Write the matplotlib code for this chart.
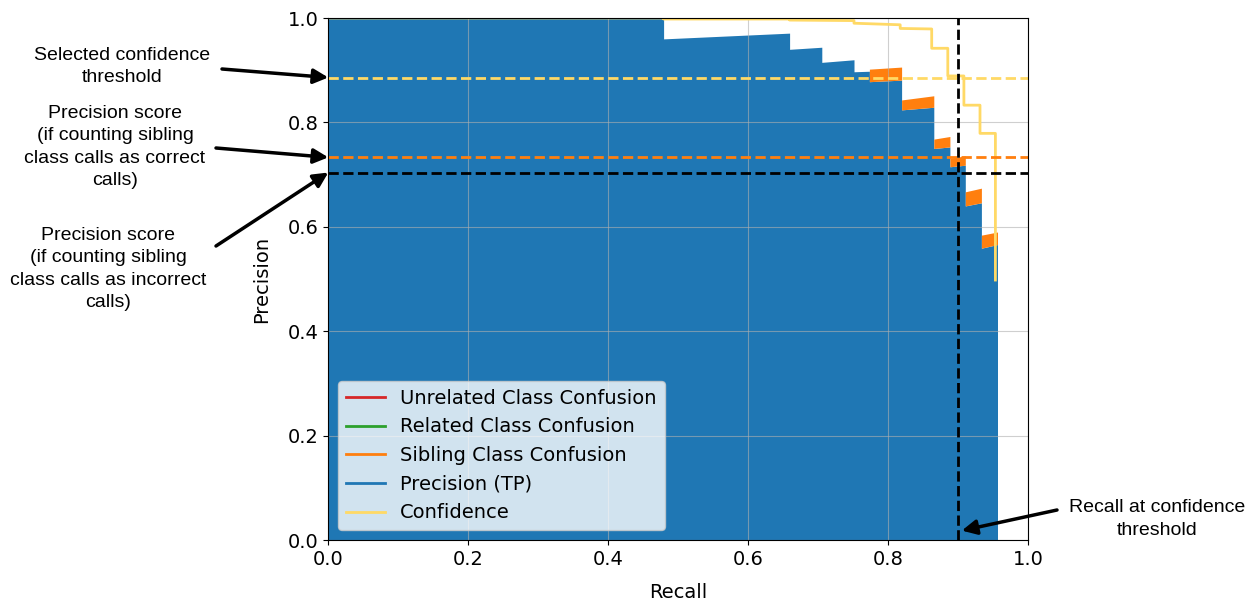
import matplotlib
matplotlib.use('Agg')
import matplotlib.pyplot as plt
import numpy as np
from matplotlib.lines import Line2D

# ========================
# Data
# ========================
recall = [0.0, 0.479, 0.479, 0.659, 0.659, 0.705, 0.705, 0.751, 0.751, 0.773, 0.773,
          0.819, 0.819, 0.865, 0.865, 0.888, 0.888, 0.910, 0.910, 0.933, 0.933, 0.956]
tp_precision = [1.0, 1.0, 0.960, 0.971, 0.940, 0.944, 0.915, 0.920, 0.897, 0.898, 0.878,
                0.881, 0.824, 0.829, 0.750, 0.753, 0.715, 0.718, 0.640, 0.646, 0.559, 0.566]
sibling_confusion = [0, 0, 0, 0, 0, 0, 0, 0, 0, 0, 0.024,
                     0.025, 0.019, 0.022, 0.018, 0.020, 0.016, 0.018, 0.027, 0.028, 0.025, 0.024]
related_confusion = [0.0] * len(recall)
unrelated_confusion = [0.0] * len(recall)

conf_recall = [0.0, 0.479, 0.479, 0.659, 0.659, 0.751, 0.751, 0.817, 0.817, 0.862, 0.862,
               0.885, 0.885, 0.908, 0.908, 0.931, 0.931, 0.953, 0.953]
conf_value = [1.0, 1.0, 0.998, 0.998, 0.996, 0.995, 0.990, 0.987, 0.980, 0.979, 0.942,
              0.942, 0.889, 0.889, 0.833, 0.833, 0.779, 0.779, 0.498]

conf_threshold = 0.886
precision_sibling_correct = 0.733
precision_sibling_incorrect = 0.704
recall_at_threshold = 0.900

# colours
C_TP = '#1f77b4'
C_SIB = '#ff7f0e'
C_REL = '#2ca02c'
C_UNREL = '#d62728'
C_CONF = '#ffd966'

FS = 14

# ========================
# Plot
# ========================
fig = plt.figure(figsize=(12.55, 6.01), dpi=100)
ax = fig.add_axes([328.3 / 1255, 1 - 540 / 601, 700 / 1255, 522 / 601])

r = np.array(recall)
tp = np.array(tp_precision)
sib_top = tp + np.array(sibling_confusion)
rel_top = sib_top + np.array(related_confusion)
unrel_top = rel_top + np.array(unrelated_confusion)

ax.fill_between(r, 0, tp, color=C_TP, lw=0)
ax.fill_between(r, tp, sib_top, color=C_SIB, lw=0)
ax.fill_between(r, sib_top, rel_top, color=C_REL, lw=0)
ax.fill_between(r, rel_top, unrel_top, color=C_UNREL, lw=0)

ax.plot(conf_recall, conf_value, color=C_CONF, lw=2)

ax.axhline(conf_threshold, color=C_CONF, ls='--', lw=2)
ax.axhline(precision_sibling_correct, color=C_SIB, ls='--', lw=2)
ax.axhline(precision_sibling_incorrect, color='black', ls='--', lw=2)
ax.axvline(recall_at_threshold, color='black', ls='--', lw=2)

ax.set_xlim(0, 1)
ax.set_ylim(0, 1)
ax.grid(True, alpha=0.6)
ax.tick_params(labelsize=FS)
ax.set_xlabel('Recall', fontsize=FS, labelpad=10)
ax.set_ylabel('Precision', fontsize=FS, labelpad=12)

handles = [Line2D([], [], color=C_UNREL, lw=2),
           Line2D([], [], color=C_REL, lw=2),
           Line2D([], [], color=C_SIB, lw=2),
           Line2D([], [], color=C_TP, lw=2),
           Line2D([], [], color=C_CONF, lw=2)]
labels = ['Unrelated Class Confusion', 'Related Class Confusion',
          'Sibling Class Confusion', 'Precision (TP)', 'Confidence']
ax.legend(handles, labels, loc='lower left', fontsize=FS)

# ========================
# Annotations outside the axes
# ========================
def fig_xy(px, py):
    return (px / 1255, 1 - py / 601)

txt_kw = dict(ha='center', va='center', fontsize=FS, family='Liberation Sans',
              linespacing=1.4)
arrow_kw = dict(arrowstyle='-|>', color='black', lw=2.5, mutation_scale=22,
                shrinkA=0, shrinkB=0)

fig.text(*fig_xy(122, 66.5), 'Selected confidence\nthreshold', **txt_kw)
fig.text(*fig_xy(115, 147), 'Precision score\n(if counting sibling\nclass calls as correct\ncalls)', **txt_kw)
fig.text(*fig_xy(108, 269), 'Precision score\n(if counting sibling\nclass calls as incorrect\ncalls)', **txt_kw)
fig.text(*fig_xy(1157, 519), 'Recall at confidence\nthreshold', **txt_kw)

ax.annotate('', xy=(0, conf_threshold), xycoords='data',
            xytext=fig_xy(222, 69), textcoords='figure fraction',
            arrowprops=arrow_kw, annotation_clip=False)
ax.annotate('', xy=(0, precision_sibling_correct), xycoords='data',
            xytext=fig_xy(216, 148), textcoords='figure fraction',
            arrowprops=arrow_kw, annotation_clip=False)
ax.annotate('', xy=(0, precision_sibling_incorrect), xycoords='data',
            xytext=fig_xy(216, 246), textcoords='figure fraction',
            arrowprops=arrow_kw, annotation_clip=False)
ax.annotate('', xy=(recall_at_threshold + 0.005, 0.018), xycoords='data',
            xytext=fig_xy(1057, 510), textcoords='figure fraction',
            arrowprops=arrow_kw, annotation_clip=False)

fig.savefig('out.png', dpi=100)
